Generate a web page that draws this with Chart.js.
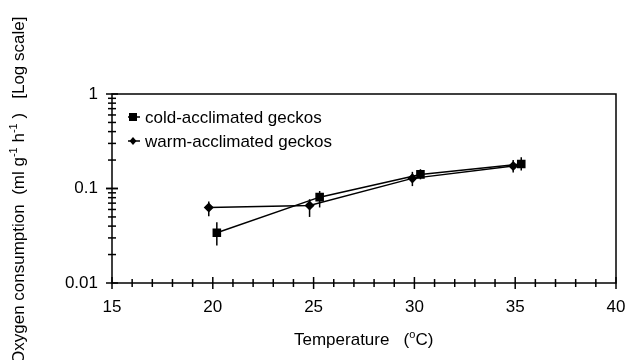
<!DOCTYPE html>
<html>
<head>
<meta charset="utf-8">
<script src="https://cdn.jsdelivr.net/npm/chart.js@4"></script>
<style>
  html, body { margin: 0; padding: 0; background: #fff; }
  .wrap { width: 626px; height: 360px; position: relative; }
</style>
</head>
<body>
<div class="wrap"><canvas id="chart" width="626" height="360"></canvas></div>
<script>
// values
const coldTemp = [20.2, 25.3, 30.3, 35.3];
const coldO2 = [0.034, 0.081, 0.141, 0.182];
const coldLow = [0.025, 0.063, 0.125, 0.155];
const coldHigh = [0.044, 0.094, 0.16, 0.214];

const warmTemp = [19.8, 24.8, 29.9, 34.9];
const warmO2 = [0.063, 0.066, 0.128, 0.173];
const warmLow = [0.051, 0.05, 0.106, 0.148];
const warmHigh = [0.073, 0.077, 0.15, 0.2];

const xTicks = [15, 20, 25, 30, 35, 40];
const yTicks = [0.01, 0.1, 1];
const seriesNames = ["cold-acclimated geckos", "warm-acclimated geckos"];

const FONT = "17px 'Liberation Sans', Arial, sans-serif";
const SMALL = "11px 'Liberation Sans', Arial, sans-serif";

const toPoints = (xs, ys) => xs.map((x, i) => ({ x: x, y: ys[i] }));

const errBars = [
  { xs: coldTemp, lo: coldLow, hi: coldHigh },
  { xs: warmTemp, lo: warmLow, hi: warmHigh },
];

const extras = {
  id: "extras",
  beforeDatasetsDraw(chart) {
    const { ctx, chartArea: a, scales } = chart;
    const xs = scales.x, ys = scales.y;
    ctx.save();
    ctx.strokeStyle = "#000";
    ctx.lineWidth = 1.5;
    // box
    ctx.strokeRect(a.left, a.top, a.right - a.left, a.bottom - a.top);
    // x ticks crossing the axis
    for (let v = 15; v <= 40; v++) {
      const px = xs.getPixelForValue(v);
      const len = v % 5 === 0 ? 6 : 4;
      ctx.beginPath();
      ctx.moveTo(px, a.bottom - len);
      ctx.lineTo(px, a.bottom + len);
      ctx.stroke();
    }
    // y log ticks
    [0.01, 0.1].forEach((dec) => {
      for (let m = 1; m <= 10; m++) {
        const v = dec * m;
        const py = ys.getPixelForValue(v);
        const len = (m === 1 || m === 10) ? 6 : 4;
        ctx.beginPath();
        ctx.moveTo(a.left - len, py);
        ctx.lineTo(a.left + len, py);
        ctx.stroke();
      }
    });
    // error bars
    errBars.forEach((s) => {
      s.xs.forEach((x, i) => {
        const px = xs.getPixelForValue(x);
        ctx.beginPath();
        ctx.moveTo(px, ys.getPixelForValue(s.lo[i]));
        ctx.lineTo(px, ys.getPixelForValue(s.hi[i]));
        ctx.stroke();
      });
    });
    ctx.restore();
  },
  afterDraw(chart) {
    const { ctx, chartArea: a } = chart;
    ctx.save();
    ctx.fillStyle = "#000";
    ctx.strokeStyle = "#000";
    ctx.textBaseline = "alphabetic";

    // legend inside the plot
    const legY = [a.top + 23, a.top + 47];
    legY.forEach((y, i) => {
      ctx.lineWidth = 1.5;
      ctx.beginPath();
      ctx.moveTo(a.left + 16, y);
      ctx.lineTo(a.left + 28, y);
      ctx.stroke();
      const cx = a.left + 21;
      if (i === 0) {
        ctx.fillRect(cx - 4, y - 4, 8, 8);
      } else {
        ctx.beginPath();
        ctx.moveTo(cx, y - 4);
        ctx.lineTo(cx + 3.5, y);
        ctx.lineTo(cx, y + 4);
        ctx.lineTo(cx - 3.5, y);
        ctx.closePath();
        ctx.fill();
      }
      ctx.font = FONT;
      ctx.textAlign = "left";
      ctx.fillText(seriesNames[i], a.left + 33, y + 6);
    });

    // x title: Temperature (°C)
    let x = 294;
    const by = 345;
    ctx.textAlign = "left";
    ctx.font = FONT;
    let t = "Temperature   (";
    ctx.fillText(t, x, by);
    x += ctx.measureText(t).width;
    ctx.font = SMALL;
    ctx.fillText("o", x, by - 7);
    x += ctx.measureText("o").width;
    ctx.font = FONT;
    ctx.fillText("C)", x, by);

    // y title, rotated
    ctx.translate(24, 0);
    ctx.rotate(-Math.PI / 2);
    let p = -364;
    const parts = [
      ["Oxygen consumption  (ml g", FONT, 0],
      ["-1", SMALL, -7],
      [" h", FONT, 0],
      ["-1", SMALL, -7],
      [" )   [Log scale]", FONT, 0],
    ];
    parts.forEach(([s, f, dy]) => {
      ctx.font = f;
      ctx.fillText(s, p, dy);
      p += ctx.measureText(s).width;
    });
    ctx.restore();
  },
};

new Chart(document.getElementById("chart"), {
  type: "scatter",
  data: {
    datasets: [
      {
        label: seriesNames[0],
        data: toPoints(coldTemp, coldO2),
        showLine: true,
        borderColor: "#000",
        backgroundColor: "#000",
        borderWidth: 1.5,
        pointStyle: "rect",
        pointRadius: 5,
      },
      {
        label: seriesNames[1],
        data: toPoints(warmTemp, warmO2),
        showLine: true,
        borderColor: "#000",
        backgroundColor: "#000",
        borderWidth: 1.5,
        pointStyle: "rectRot",
        pointRadius: 4,
      },
    ],
  },
  options: {
    responsive: false,
    animation: false,
    layout: { padding: { left: 0, right: 10, top: 94, bottom: 0 } },
    plugins: { legend: { display: false }, tooltip: { enabled: false } },
    scales: {
      x: {
        type: "linear",
        min: 15,
        max: 40,
        afterBuildTicks: (s) => { s.ticks = xTicks.map((v) => ({ value: v })); },
        afterFit: (s) => {
          s.height = 77;
          s.paddingLeft = 0;
          s.paddingRight = 0;
        },
        grid: { display: false },
        border: { display: false },
        ticks: { color: "#000", font: { family: "'Liberation Sans', Arial", size: 17 }, padding: 6 },
      },
      y: {
        type: "logarithmic",
        min: 0.01,
        max: 1,
        afterBuildTicks: (s) => { s.ticks = yTicks.map((v) => ({ value: v })); },
        afterFit: (s) => {
          s.width = 112;
          s.paddingTop = 0;
          s.paddingBottom = 0;
        },
        grid: { display: false },
        border: { display: false },
        ticks: {
          color: "#000",
          font: { family: "'Liberation Sans', Arial", size: 17 },
          padding: 6,
          callback: (v) => String(v),
        },
      },
    },
  },
  plugins: [extras],
});
</script>
</body>
</html>
